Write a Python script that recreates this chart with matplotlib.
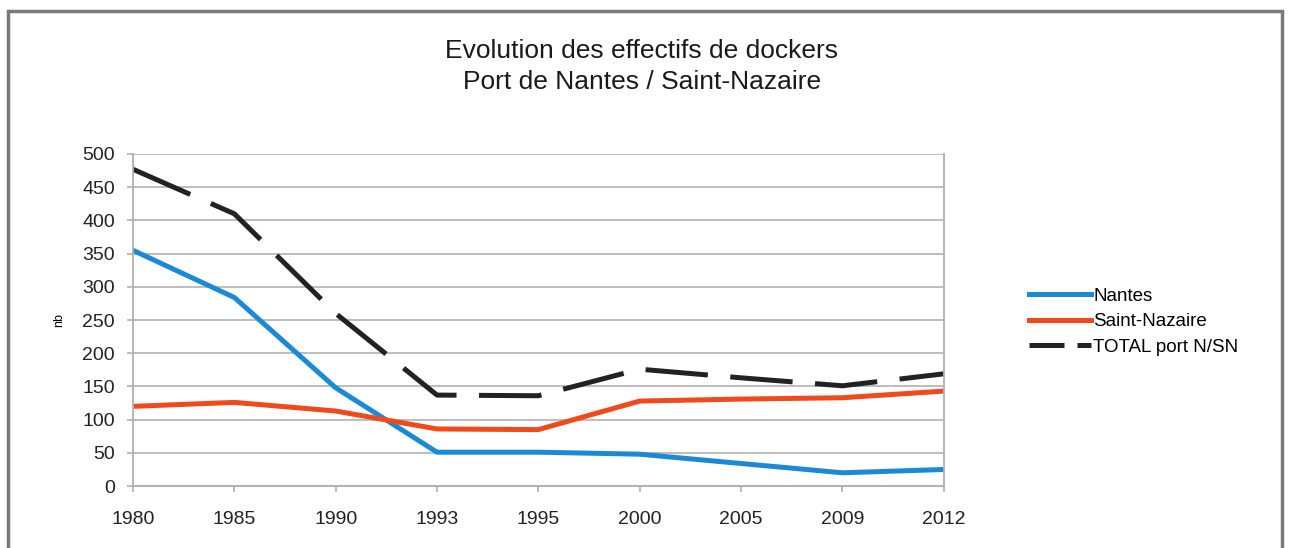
import matplotlib.pyplot as plt
from matplotlib.patches import Rectangle
from matplotlib.legend_handler import HandlerLine2D

plt.rcParams['font.family'] = ['Liberation Sans', 'DejaVu Sans']

years = ['1980', '1985', '1990', '1993', '1995', '2000', '2005', '2009', '2012']
nantes = [355, 284, 148, 51, 51, 48, 34, 20, 25]
saint_nazaire = [120, 126, 113, 86, 85, 128, 131, 133, 143]
total = [477, 410, 260, 137, 136, 176, 163, 151, 169]

fig = plt.figure(figsize=(12.91, 5.48), dpi=100)
ax = fig.add_axes([0.103, 0.113, 0.628, 0.606])

x = range(len(years))
ax.plot(x, nantes, color='#1b8ad6', lw=3.6, label='Nantes', solid_joinstyle='round')
ax.plot(x, saint_nazaire, color='#f0491c', lw=3.6, label='Saint-Nazaire', solid_joinstyle='round')
tot_line, = ax.plot(x, total, color='#222222', lw=3.6, dashes=(12.5, 4.5), label='TOTAL port N/SN')

ax.set_xlim(0, len(years) - 1)
ax.set_ylim(0, 500)
ax.set_xticks(list(x))
ax.set_xticklabels(years)
ax.set_yticks(range(0, 501, 50))
ax.tick_params(labelsize=14, colors='#b0b0b0', labelcolor='#222222', length=4, width=1.2)
ax.tick_params(axis='x', pad=14)
ax.tick_params(axis='y', pad=9)
ax.yaxis.grid(True, color='#b8b8b8', lw=1.3)
for side in ['left', 'bottom', 'right']:
    ax.spines[side].set_color('#b0b0b0')
    ax.spines[side].set_linewidth(1.3)
ax.spines['top'].set_visible(False)
ax.set_ylabel('nb', fontsize=9, labelpad=12)

fig.text(0.497, 0.878, 'Evolution des effectifs de dockers\nPort de Nantes / Saint-Nazaire',
         ha='center', va='center', fontsize=19, linespacing=1.38, color='#1a1a1a')


def short_dash(handle, orig):
    handle.update_from(orig)
    handle.set_dashes((7, 2.6))


ax.legend(loc='center left', bbox_to_anchor=(1.084, 0.495), frameon=False, fontsize=13.5,
          handlelength=3.3, handletextpad=0.15, labelspacing=0.45,
          handler_map={tot_line: HandlerLine2D(update_func=short_dash)})

fig.patches.append(Rectangle((0.006, -0.01), 0.987, 0.99, transform=fig.transFigure,
                             fill=False, edgecolor='#7a7a7a', lw=2.5))

fig.savefig('out.png', dpi=100)
